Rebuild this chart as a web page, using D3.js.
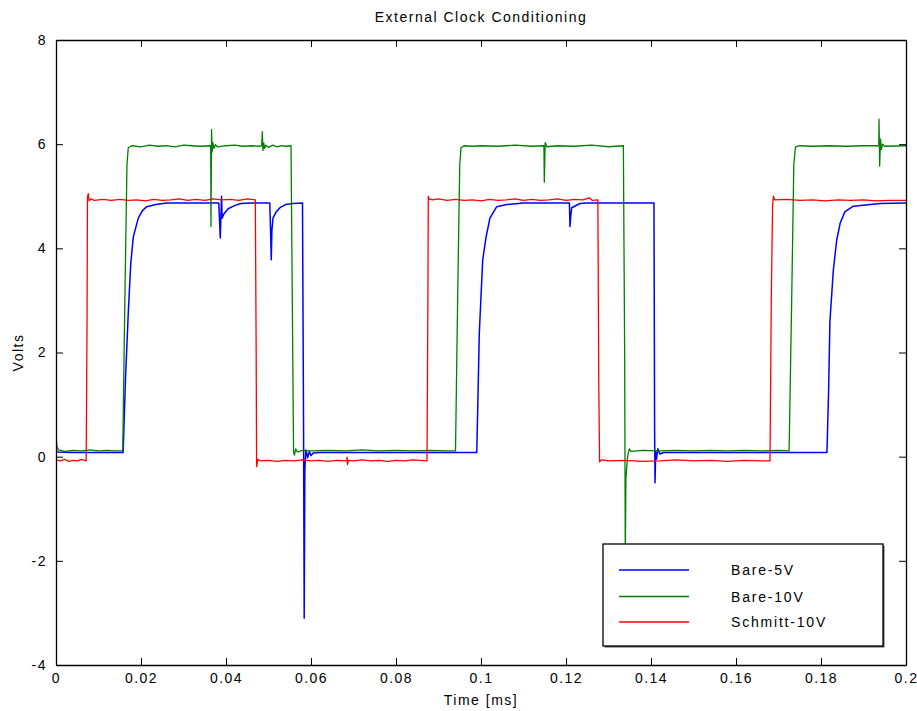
<!DOCTYPE html>
<html>
<head>
<meta charset="utf-8">
<script src="https://cdn.jsdelivr.net/npm/d3@7"></script>
<style>
  html, body { margin: 0; padding: 0; background: #fff; }
  svg text { font-family: "Liberation Sans", Arial, Helvetica, sans-serif; fill: #000; }
</style>
</head>
<body>
<svg id="chart" width="917" height="711"></svg>
<script>
// ---- data (time in ms, value in volts) ----
const chartTitle = "External Clock Conditioning";
const xLabel = "Time [ms]";
const yLabel = "Volts";
const seriesNames = ["Bare-5V", "Bare-10V", "Schmitt-10V"];
const seriesColors = ["#0000ff", "#008000", "#ff0000"];
const xTicks = [0, 0.02, 0.04, 0.06, 0.08, 0.1, 0.12, 0.14, 0.16, 0.18, 0.2];
const xTickLabels = ["0", "0.02", "0.04", "0.06", "0.08", "0.1", "0.12", "0.14", "0.16", "0.18", "0.2"];
const yTicks = [-4, -2, 0, 2, 4, 6, 8];
const yTickLabels = ["-4", "-2", "0", "2", "4", "6", "8"];

const bare5V = [[0,0.14],[0.0003,0.09],[0.004,0.08],[0.0158,0.08],[0.01635,1.5],[0.0170,2.75],[0.01758,3.7],[0.01819,4.22],[0.01936,4.58],[0.0203,4.72],[0.02134,4.8],[0.0235,4.84],[0.02605,4.87],[0.0383,4.87],[0.0385,4.5],[0.03865,4.2],[0.0388,4.6],[0.03895,5.0],[0.0391,4.58],[0.0395,4.66],[0.0405,4.76],[0.042,4.82],[0.0435,4.86],[0.046,4.87],[0.0503,4.87],[0.0505,4.3],[0.05065,3.78],[0.0508,4.35],[0.05106,4.58],[0.0518,4.7],[0.0527,4.78],[0.054,4.84],[0.0557,4.86],[0.0580,4.87],[0.05825,0.5],[0.0584,-3.1],[0.05855,-0.25],[0.0588,0.13],[0.0592,-0.02],[0.0596,0.1],[0.0600,0.02],[0.0605,0.07],[0.062,0.08],[0.0990,0.08],[0.0993,1.2],[0.0996,2.37],[0.1004,3.78],[0.1012,4.22],[0.1021,4.58],[0.1037,4.8],[0.1060,4.84],[0.110,4.87],[0.1208,4.87],[0.12094,4.42],[0.1211,4.6],[0.12134,4.78],[0.1233,4.86],[0.125,4.87],[0.1407,4.87],[0.14085,0.5],[0.14095,-0.5],[0.1411,0.1],[0.1413,-0.05],[0.1416,0.15],[0.1421,0.05],[0.143,0.08],[0.1814,0.08],[0.1818,1.3],[0.1821,2.6],[0.1829,3.58],[0.1837,4.16],[0.1845,4.48],[0.1856,4.7],[0.1876,4.81],[0.1939,4.86],[0.2,4.87]];

const bare10V = [[0,0.42],[0.0002,0.2],[0.0006,0.13],[0.002,0.1],[0.004,0.12],[0.006,0.11],[0.008,0.13],[0.010,0.11],[0.012,0.12],[0.014,0.11],[0.0157,0.11],[0.0162,3.0],[0.0167,5.6],[0.0170,5.93],[0.0178,5.97],[0.020,5.95],[0.022,5.98],[0.024,5.96],[0.026,5.97],[0.028,5.95],[0.030,5.98],[0.032,5.97],[0.034,5.96],[0.0364,5.97],[0.03647,4.42],[0.0366,6.28],[0.03675,5.85],[0.0369,6.03],[0.0372,5.92],[0.0375,5.99],[0.038,5.95],[0.040,5.97],[0.042,5.98],[0.044,5.96],[0.046,5.97],[0.048,5.96],[0.0484,5.97],[0.04854,6.24],[0.0487,5.88],[0.0489,6.02],[0.0491,5.92],[0.0494,5.98],[0.050,5.94],[0.051,5.98],[0.052,5.95],[0.053,5.97],[0.054,5.96],[0.0553,5.97],[0.0556,3.0],[0.0559,0.08],[0.0561,0.03],[0.0564,0.15],[0.0568,0.09],[0.058,0.12],[0.060,0.11],[0.064,0.12],[0.068,0.11],[0.072,0.13],[0.076,0.11],[0.080,0.12],[0.084,0.11],[0.088,0.12],[0.092,0.11],[0.0940,0.11],[0.0945,3.0],[0.0950,5.6],[0.0953,5.93],[0.096,5.97],[0.098,5.96],[0.100,5.97],[0.104,5.96],[0.108,5.98],[0.112,5.96],[0.1148,5.97],[0.1149,5.27],[0.1151,6.03],[0.1155,5.95],[0.118,5.97],[0.122,5.96],[0.126,5.98],[0.130,5.95],[0.1335,5.97],[0.1338,2.0],[0.13395,-1.9],[0.1341,-0.4],[0.1345,0.0],[0.1349,0.15],[0.1353,0.1],[0.138,0.12],[0.142,0.11],[0.146,0.12],[0.150,0.11],[0.154,0.12],[0.158,0.11],[0.162,0.12],[0.166,0.11],[0.170,0.12],[0.1725,0.11],[0.1731,3.0],[0.1736,5.6],[0.1740,5.95],[0.175,5.97],[0.178,5.96],[0.182,5.97],[0.186,5.96],[0.190,5.97],[0.1936,5.97],[0.19365,6.48],[0.1938,5.58],[0.194,6.1],[0.1942,5.9],[0.1945,6.0],[0.195,5.96],[0.2,5.97]];

const schmitt10V = [[0,-0.06],[0.001,-0.08],[0.002,-0.05],[0.003,-0.09],[0.004,-0.07],[0.005,-0.08],[0.006,-0.05],[0.0071,-0.08],[0.0073,2.5],[0.0074,4.98],[0.0076,5.05],[0.0078,4.91],[0.0082,4.95],[0.009,4.92],[0.011,4.94],[0.013,4.92],[0.015,4.94],[0.017,4.92],[0.019,4.93],[0.021,4.91],[0.023,4.94],[0.025,4.92],[0.027,4.93],[0.029,4.95],[0.031,4.92],[0.033,4.94],[0.035,4.92],[0.037,4.95],[0.039,4.93],[0.041,4.94],[0.043,4.92],[0.045,4.95],[0.0469,4.93],[0.0471,2.0],[0.0472,-0.19],[0.0475,-0.05],[0.048,-0.08],[0.050,-0.07],[0.052,-0.09],[0.054,-0.07],[0.056,-0.08],[0.058,-0.06],[0.060,-0.08],[0.062,-0.07],[0.064,-0.09],[0.066,-0.07],[0.0684,-0.08],[0.0685,-0.01],[0.0686,-0.15],[0.0688,-0.07],[0.070,-0.08],[0.072,-0.06],[0.074,-0.08],[0.076,-0.07],[0.078,-0.09],[0.080,-0.07],[0.082,-0.08],[0.084,-0.06],[0.0873,-0.08],[0.0875,3.0],[0.0876,5.0],[0.0878,4.95],[0.0885,4.93],[0.090,4.95],[0.092,4.92],[0.094,4.94],[0.096,4.92],[0.098,4.93],[0.100,4.91],[0.102,4.94],[0.104,4.92],[0.106,4.93],[0.108,4.95],[0.110,4.92],[0.112,4.94],[0.114,4.92],[0.116,4.93],[0.118,4.95],[0.120,4.92],[0.122,4.94],[0.124,4.93],[0.1255,4.97],[0.1262,4.92],[0.1275,4.93],[0.1277,1.5],[0.1279,-0.1],[0.1284,-0.06],[0.130,-0.08],[0.134,-0.07],[0.138,-0.09],[0.142,-0.08],[0.146,-0.06],[0.150,-0.08],[0.154,-0.07],[0.158,-0.09],[0.162,-0.07],[0.166,-0.08],[0.1680,-0.08],[0.1683,3.0],[0.1686,4.8],[0.1688,5.0],[0.1691,4.93],[0.172,4.94],[0.175,4.92],[0.178,4.93],[0.181,4.91],[0.184,4.93],[0.187,4.92],[0.190,4.93],[0.193,4.91],[0.196,4.92],[0.2,4.92]];

const allSeries = [bare5V, bare10V, schmitt10V];

// ---- layout ----
const plot = { left: 56, right: 906, top: 40, bottom: 665 };
const svg = d3.select("#chart");

const x = d3.scaleLinear().domain([0, 0.2]).range([plot.left, plot.right]);
const y = d3.scaleLinear().domain([-4, 8]).range([plot.bottom, plot.top]);

const fontSize = 14, ls = "1.5px";

// clip
svg.append("defs").append("clipPath").attr("id", "clip")
  .append("rect").attr("x", plot.left).attr("y", plot.top)
  .attr("width", plot.right - plot.left).attr("height", plot.bottom - plot.top);

// series
const line = d3.line().x(d => x(d[0])).y(d => y(d[1]));
const gLines = svg.append("g").attr("clip-path", "url(#clip)");
allSeries.forEach((s, i) => {
  gLines.append("path").datum(s)
    .attr("d", line)
    .attr("fill", "none")
    .attr("stroke", seriesColors[i])
    .attr("stroke-width", i === 0 ? 1.5 : 1.3)
    .attr("stroke-linejoin", "round");
});

// axes (ticks inward)
const tickLen = 7;
const axB = d3.axisBottom(x).tickValues(xTicks).tickSizeInner(-tickLen).tickSizeOuter(0)
  .tickFormat((d, i) => xTickLabels[i]).tickPadding(8);
const axT = d3.axisTop(x).tickValues(xTicks).tickSizeInner(-tickLen).tickSizeOuter(0).tickFormat("");
const axL = d3.axisLeft(y).tickValues(yTicks).tickSizeInner(-tickLen).tickSizeOuter(0)
  .tickFormat((d, i) => yTickLabels[i]).tickPadding(9);
const axR = d3.axisRight(y).tickValues(yTicks).tickSizeInner(-tickLen).tickSizeOuter(0).tickFormat("");

function styleAxis(g) {
  g.select(".domain").attr("stroke", "#000").attr("stroke-width", 1.3);
  g.selectAll(".tick line").attr("stroke", "#000").attr("stroke-width", 1);
  g.selectAll(".tick text").attr("font-size", fontSize).attr("letter-spacing", ls)
    .attr("font-family", "Liberation Sans, Arial, sans-serif");
}
svg.append("g").attr("transform", `translate(0,${plot.bottom})`).call(axB).call(styleAxis);
svg.append("g").attr("transform", `translate(0,${plot.top})`).call(axT).call(styleAxis);
svg.append("g").attr("transform", `translate(${plot.left},0)`).call(axL).call(styleAxis);
svg.append("g").attr("transform", `translate(${plot.right},0)`).call(axR).call(styleAxis);

// titles
svg.append("text").attr("x", (plot.left + plot.right) / 2).attr("y", 22)
  .attr("text-anchor", "middle").attr("font-size", fontSize).attr("letter-spacing", ls)
  .text(chartTitle);
svg.append("text").attr("x", (plot.left + plot.right) / 2).attr("y", 705)
  .attr("text-anchor", "middle").attr("font-size", fontSize).attr("letter-spacing", ls)
  .text(xLabel);
svg.append("text").attr("transform", `translate(23,${(plot.top + plot.bottom) / 2}) rotate(-90)`)
  .attr("text-anchor", "middle").attr("font-size", fontSize).attr("letter-spacing", ls)
  .text(yLabel);

// legend
const lg = svg.append("g");
const box = { x: 603, y: 544, w: 280, h: 102 };
lg.append("rect").attr("x", box.x + 1.5).attr("y", box.y + 1.5).attr("width", box.w).attr("height", box.h)
  .attr("fill", "#555");
lg.append("rect").attr("x", box.x).attr("y", box.y).attr("width", box.w).attr("height", box.h)
  .attr("fill", "#fff").attr("stroke", "#000").attr("stroke-width", 1.3);
const rowY = [570, 596.5, 622];
seriesNames.forEach((name, i) => {
  lg.append("line").attr("x1", 619).attr("x2", 689).attr("y1", rowY[i]).attr("y2", rowY[i])
    .attr("stroke", seriesColors[i]).attr("stroke-width", 1.3);
  lg.append("text").attr("x", 731).attr("y", rowY[i] + 5).attr("font-size", fontSize)
    .attr("letter-spacing", "1.8px").text(name);
});
</script>
</body>
</html>
